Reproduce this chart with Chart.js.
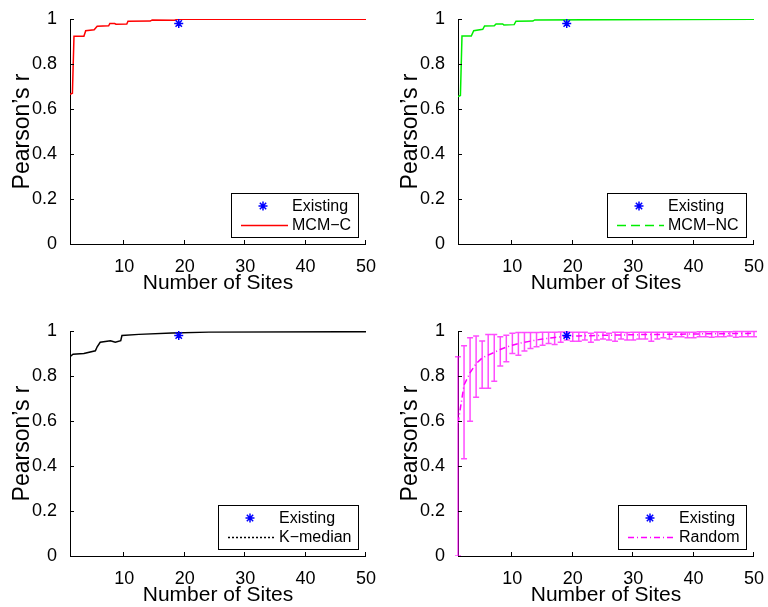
<!DOCTYPE html>
<html>
<head>
<meta charset="utf-8">
<script src="https://cdn.jsdelivr.net/npm/chart.js@4.4.1/dist/chart.umd.min.js"></script>
<style>
html, body { margin: 0; padding: 0; background: #fff; overflow: hidden; width: 768px; height: 607px; }
canvas { position: absolute; }
</style>
</head>
<body>
<canvas id="c1" width="380" height="300" style="left:0;top:0"></canvas>
<canvas id="c2" width="380" height="300" style="left:388px;top:0"></canvas>
<canvas id="c3" width="380" height="300" style="left:0;top:312px"></canvas>
<canvas id="c4" width="380" height="300" style="left:388px;top:312px"></canvas>
<script>
// values
const xTicks = [10, 20, 30, 40, 50];
const yTicks = [0, 0.2, 0.4, 0.6, 0.8, 1];

const existingX = [19];
const existingY = [0.98];

const mcmcX = [1, 1.4, 1.66, 3.3, 3.6, 5.0, 5.5, 7.4, 7.6, 8.4, 8.6, 10.4, 10.6, 14.3, 14.6, 18.3, 18.9, 50];
const mcmcY = [0.665, 0.67, 0.923, 0.923, 0.948, 0.952, 0.968, 0.970, 0.980, 0.980, 0.977, 0.978, 0.990, 0.991, 0.996, 0.995, 0.999, 0.999];

const mcmncX = [1, 1.4, 1.66, 3.2, 3.6, 5.1, 5.4, 7.0, 7.3, 8.4, 8.6, 10.3, 10.6, 13.4, 13.7, 50];
const mcmncY = [0.655, 0.66, 0.924, 0.924, 0.948, 0.954, 0.969, 0.970, 0.978, 0.978, 0.973, 0.975, 0.990, 0.991, 0.996, 0.999];

const kmedX = [1, 1.5, 3.3, 5.2, 5.5, 6.0, 7.7, 8.5, 9.4, 9.6, 12.4, 17.9, 24, 50];
const kmedY = [0.886, 0.897, 0.900, 0.912, 0.930, 0.950, 0.957, 0.950, 0.957, 0.980, 0.985, 0.991, 0.995, 0.997];

const randX = [1, 2, 3, 4, 5, 6, 7, 8, 9, 10, 11, 12, 13, 14, 15, 16, 17, 18, 19, 20,
    21, 22, 23, 24, 25, 26, 27, 28, 29, 30, 31, 32, 33, 34, 35, 36, 37, 38, 39, 40,
    41, 42, 43, 44, 45, 46, 47, 48, 49, 50];
const randMean = [0.59, 0.76, 0.815, 0.855, 0.88, 0.893, 0.905, 0.918, 0.928, 0.937,
    0.944, 0.95, 0.955, 0.96, 0.964, 0.968, 0.971, 0.974, 0.976, 0.977,
    0.978, 0.979, 0.979, 0.98, 0.981, 0.981, 0.982, 0.982, 0.983, 0.983,
    0.984, 0.984, 0.984, 0.985, 0.985, 0.986, 0.986, 0.986, 0.987, 0.987,
    0.987, 0.988, 0.988, 0.988, 0.988, 0.989, 0.989, 0.989, 0.989, 0.99];
const randLow = [0, 0.432, 0.599, 0.706, 0.746, 0.746, 0.777, 0.844, 0.863, 0.900,
    0.892, 0.911, 0.922, 0.930, 0.937, 0.945, 0.940, 0.950, 0.960, 0.955,
    0.955, 0.96, 0.95, 0.96, 0.965, 0.96, 0.955, 0.965, 0.96, 0.96,
    0.965, 0.965, 0.955, 0.965, 0.97, 0.965, 0.975, 0.975, 0.97, 0.97,
    0.975, 0.975, 0.972, 0.975, 0.975, 0.978, 0.972, 0.975, 0.975, 0.975];
const randHigh = [0.886, 0.934, 0.970, 0.978, 0.956, 0.985, 0.985, 0.975, 0.981, 0.990,
    0.993, 0.993, 0.993, 0.993, 0.994, 0.995, 0.995, 0.996, 0.996, 0.995,
    0.995, 0.995, 0.99, 0.995, 0.995, 0.99, 0.995, 0.995, 0.993, 0.995,
    0.995, 0.995, 0.995, 0.995, 0.995, 0.995, 0.995, 0.995, 0.995, 0.995,
    0.997, 0.997, 0.997, 0.997, 0.997, 0.997, 0.998, 0.998, 0.998, 0.998];

const FONT = '"Liberation Sans", Arial, Helvetica, sans-serif';

// MATLAB style ticks pointing into the axes
const innerTicks = {
    id: 'innerTicks',
    afterDraw(chart) {
        const { ctx, chartArea: a, scales: { x, y } } = chart;
        ctx.save();
        ctx.strokeStyle = '#000';
        ctx.lineWidth = 1;
        ctx.beginPath();
        xTicks.forEach(v => {
            const px = Math.round(x.getPixelForValue(v)) - 0.5;
            ctx.moveTo(px, a.bottom);
            ctx.lineTo(px, a.bottom - 4);
        });
        yTicks.forEach(v => {
            const py = Math.round(y.getPixelForValue(v)) + 0.5;
            ctx.moveTo(a.left, py);
            ctx.lineTo(a.left + 4, py);
        });
        ctx.stroke();
        ctx.restore();
    }
};

// vertical error bars with caps (random placement panel)
const errorBars = {
    id: 'errorBars',
    beforeDatasetsDraw(chart, args, opts) {
        if (!opts || !opts.low) return;
        const { ctx, chartArea: a, scales: { x, y } } = chart;
        ctx.save();
        ctx.beginPath();
        ctx.rect(a.left - 4, a.top - 4, a.width + 8, a.height + 4);
        ctx.clip();
        ctx.strokeStyle = 'rgba(255, 0, 255, 0.7)';
        ctx.lineWidth = 1.5;
        ctx.beginPath();
        opts.x.forEach((v, i) => {
            const px = x.getPixelForValue(v);
            const lo = y.getPixelForValue(opts.low[i]);
            const hi = y.getPixelForValue(opts.high[i]);
            ctx.moveTo(px, lo); ctx.lineTo(px, hi);
            ctx.moveTo(px - 3, lo); ctx.lineTo(px + 3, lo);
            ctx.moveTo(px - 3, hi); ctx.lineTo(px + 3, hi);
        });
        ctx.stroke();
        ctx.restore();
    }
};

function drawStar(ctx, cx, cy, r) {
    ctx.save();
    ctx.strokeStyle = '#0000ff';
    ctx.lineWidth = 1.5;
    ctx.beginPath();
    ctx.moveTo(cx - r, cy); ctx.lineTo(cx + r, cy);
    ctx.moveTo(cx, cy - r); ctx.lineTo(cx, cy + r);
    const d = r * 0.707;
    ctx.moveTo(cx - d, cy - d); ctx.lineTo(cx + d, cy + d);
    ctx.moveTo(cx - d, cy + d); ctx.lineTo(cx + d, cy - d);
    ctx.stroke();
    ctx.restore();
}

// boxed legend in the lower right corner of the axes
const boxLegend = {
    id: 'boxLegend',
    afterDraw(chart) {
        const { ctx, chartArea: a } = chart;
        const sets = chart.data.datasets;
        ctx.save();
        ctx.font = '16px ' + FONT;
        const tw = Math.max(...sets.map(d => ctx.measureText(d.label).width));
        const w = Math.round(61 + tw + 7), h = 44;
        const left = Math.round(a.right - 8 - w), top = Math.round(a.bottom - 7 - h);
        ctx.fillStyle = '#fff';
        ctx.fillRect(left, top, w, h);
        ctx.strokeStyle = '#000';
        ctx.lineWidth = 1;
        ctx.strokeRect(left + 0.5, top + 0.5, w, h);
        sets.forEach((d, i) => {
            const cy = top + 13 + i * 19;
            if (d.showLine === false) {
                drawStar(ctx, left + 32, cy, 4.5);
            } else {
                ctx.save();
                ctx.strokeStyle = d.legendColor;
                ctx.lineWidth = 1.5;
                ctx.setLineDash(d.legendDash || []);
                ctx.beginPath();
                ctx.moveTo(left + 10, cy + 0.5);
                ctx.lineTo(left + 57, cy + 0.5);
                ctx.stroke();
                ctx.restore();
            }
            ctx.fillStyle = '#000';
            ctx.textBaseline = 'middle';
            ctx.fillText(d.label, left + 61, cy + 1);
        });
        ctx.restore();
    }
};

function makePanel(id, label, xs, ys, color, lineDash, legendDash, errors) {
    const existing = existingX.map((v, i) => ({ x: v, y: existingY[i] }));
    const series = xs.map((v, i) => ({ x: v, y: ys[i] }));
    new Chart(document.getElementById(id), {
        type: 'line',
        data: {
            datasets: [
                {
                    label: 'Existing',
                    data: existing,
                    showLine: false,
                    pointStyle: 'star',
                    pointRadius: 4.5,
                    pointBorderWidth: 1.5,
                    borderColor: '#0000ff',
                    backgroundColor: '#0000ff'
                },
                {
                    label: label,
                    data: series,
                    borderColor: color,
                    legendColor: color,
                    borderWidth: 1.5,
                    borderDash: lineDash,
                    legendDash: legendDash,
                    pointRadius: 0,
                    tension: 0
                }
            ]
        },
        options: {
            responsive: false,
            animation: false,
            events: [],
            layout: { padding: { left: 0, right: 13, top: 19, bottom: 0 } },
            plugins: {
                legend: { display: false },
                tooltip: { enabled: false },
                errorBars: errors || {}
            },
            scales: {
                x: {
                    type: 'linear',
                    min: 1,
                    max: 50,
                    grid: { display: false },
                    border: { display: true, color: '#000', width: 1 },
                    afterBuildTicks: s => { s.ticks = xTicks.map(v => ({ value: v })); },
                    afterFit: s => { s.height = 56; },
                    ticks: {
                        color: '#000',
                        padding: 4,
                        maxRotation: 0,
                        font: { family: FONT, size: 18 }
                    },
                    title: {
                        display: true,
                        text: 'Number of Sites',
                        color: '#000',
                        padding: { top: 0, bottom: 4 },
                        font: { family: FONT, size: 21 }
                    }
                },
                y: {
                    min: 0,
                    max: 1,
                    grid: { display: false },
                    border: { display: true, color: '#000', width: 1 },
                    afterBuildTicks: s => { s.ticks = yTicks.map(v => ({ value: v })); },
                    afterFit: s => { s.width = 70; },
                    ticks: {
                        color: '#000',
                        padding: 5,
                        font: { family: FONT, size: 18 },
                        callback: v => String(+v.toFixed(1))
                    },
                    title: {
                        display: true,
                        text: 'Pearson\u2019s r',
                        color: '#000',
                        padding: { top: 9, bottom: 0 },
                        font: { family: FONT, size: 23 }
                    }
                }
            }
        },
        plugins: [errorBars, innerTicks, boxLegend]
    });
}

makePanel('c1', 'MCM\u2212C', mcmcX, mcmcY, '#ff0000', [], []);
makePanel('c2', 'MCM\u2212NC', mcmncX, mcmncY, '#00ee00', [], [9, 5]);
makePanel('c3', 'K\u2212median', kmedX, kmedY, '#000000', [], [2, 2]);
makePanel('c4', 'Random', randX, randMean, '#ff00ff', [6, 3, 1, 3], [6, 3, 1, 3],
    { x: randX, low: randLow, high: randHigh });
</script>
</body>
</html>
